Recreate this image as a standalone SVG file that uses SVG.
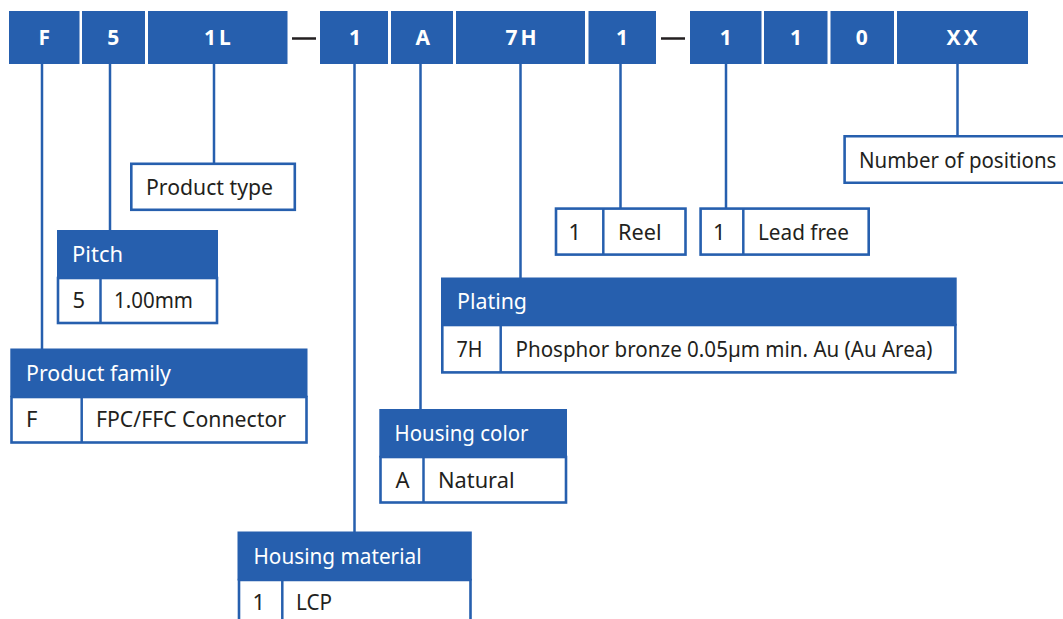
<svg xmlns="http://www.w3.org/2000/svg" width="1063" height="619" viewBox="0 0 1063 619">
<style>
.b{fill:#265fae}
.o{fill:#fff;stroke:#265fae;stroke-width:2.6}
.c{stroke:#265fae;stroke-width:2.5;fill:none}
.t{font-family:"Noto Sans","Liberation Sans",sans-serif;font-size:22px;fill:#231f20}
.h{font-family:"Noto Sans","Liberation Sans",sans-serif;font-size:22px;fill:#fff}
.k{font-family:"Noto Sans","Liberation Sans",sans-serif;font-size:21px;font-weight:700;fill:#fff;text-anchor:middle}
.s{letter-spacing:3px}
</style>
<rect width="1063" height="619" fill="#fff"/>
<g id="connectors">
<path class="c" d="M42 64V349M110 64V230M214 64V163M354.500 64V532M420.500 64V409M520.500 64V278M620.500 64V208M726 64V208M957.500 64V136"/>
<path d="M292 38.500H316M661 38.500H685" stroke="#231f20" stroke-width="2.6" fill="none"/>
</g>
<g id="code">
<rect class="b" x="9" y="11" width="70.500" height="53"/><text class="k" x="44.300" y="44.500">F</text>
<rect class="b" x="82" y="11" width="63" height="53"/><text class="k" x="113.300" y="44.500">5</text>
<rect class="b" x="148" y="11" width="139.500" height="53"/><text class="k s" x="219" y="44.500">1L</text>
<rect class="b" x="320" y="11" width="68" height="53"/><text class="k" x="355" y="44.500">1</text>
<rect class="b" x="391" y="11" width="62" height="53"/><text class="k" x="422.700" y="44.500">A</text>
<rect class="b" x="456" y="11" width="129" height="53"/><text class="k s" x="522.500" y="44.500">7H</text>
<rect class="b" x="588.500" y="11" width="67.500" height="53"/><text class="k" x="622" y="44.500">1</text>
<rect class="b" x="690" y="11" width="71.500" height="53"/><text class="k" x="725.700" y="44.500">1</text>
<rect class="b" x="764" y="11" width="63.500" height="53"/><text class="k" x="796" y="44.500">1</text>
<rect class="b" x="830.500" y="11" width="63.500" height="53"/><text class="k" x="861.700" y="44.500">0</text>
<rect class="b" x="897" y="11" width="131" height="53"/><text class="k s" x="963.500" y="44.500">XX</text>
</g>
<g id="product-type"><rect class="o" x="131.300" y="163.800" width="163.500" height="46"/><text class="t" x="146" y="195" textLength="127" lengthAdjust="spacingAndGlyphs">Product type</text></g>
<g id="number-of-positions"><path class="o" d="M1063 136.300H844.600V182.800H1063"/><text class="t" transform="translate(859 168) scale(.93 1)">Number of positions</text></g>
<g id="pitch"><rect class="o" x="58" y="278" width="159" height="45"/><path class="c" d="M100.500 278V323"/><rect class="b" x="57" y="230" width="161" height="48"/><text class="h" x="72" y="262" textLength="51" lengthAdjust="spacingAndGlyphs">Pitch</text><text class="t" x="72.500" y="308">5</text><text class="t" x="114" y="308" textLength="79" lengthAdjust="spacingAndGlyphs">1.00mm</text></g>
<g id="product-family"><rect class="o" x="11.500" y="397" width="295" height="45.500"/><path class="c" d="M81.700 397V442"/><rect class="b" x="10.300" y="348.500" width="297.200" height="48.500"/><text class="h" x="26" y="381" textLength="145" lengthAdjust="spacingAndGlyphs">Product family</text><text class="t" x="26" y="427">F</text><text class="t" x="96" y="427" textLength="190" lengthAdjust="spacingAndGlyphs">FPC/FFC Connector</text></g>
<g id="housing-color"><rect class="o" x="380.500" y="457" width="185.500" height="45.500"/><path class="c" d="M423.500 457V503"/><rect class="b" x="379.300" y="409" width="187.700" height="48.500"/><text class="h" x="394.500" y="441" textLength="134" lengthAdjust="spacingAndGlyphs">Housing color</text><text class="t" x="395.500" y="488">A</text><text class="t" x="438" y="488" textLength="76.500" lengthAdjust="spacingAndGlyphs">Natural</text></g>
<g id="housing-material"><path class="o" d="M239 619V580H470.500V619"/><path class="c" d="M282.300 580V619"/><rect class="b" x="237.500" y="531.500" width="234.300" height="49"/><text class="h" x="253.500" y="564" textLength="168" lengthAdjust="spacingAndGlyphs">Housing material</text><text class="t" x="252.500" y="610">1</text><text class="t" x="296" y="610" textLength="36" lengthAdjust="spacingAndGlyphs">LCP</text></g>
<g id="packaging"><rect class="o" x="556" y="208.600" width="129.500" height="46"/><path class="c" d="M603.300 209V255"/><text class="t" x="568.500" y="240">1</text><text class="t" x="618" y="240" textLength="43.500" lengthAdjust="spacingAndGlyphs">Reel</text></g>
<g id="lead-free"><rect class="o" x="700.600" y="208.600" width="168.100" height="46"/><path class="c" d="M743.300 209V255"/><text class="t" x="713" y="240">1</text><text class="t" x="758" y="240" textLength="91" lengthAdjust="spacingAndGlyphs">Lead free</text></g>
<g id="plating"><rect class="o" x="442.300" y="325" width="513.100" height="47.400"/><path class="c" d="M500.700 325V372"/><rect class="b" x="441" y="277.500" width="515.700" height="48.200"/><text class="h" x="457" y="309" textLength="70" lengthAdjust="spacingAndGlyphs">Plating</text><text class="t" x="456.500" y="356.500" textLength="26" lengthAdjust="spacingAndGlyphs">7H</text><text class="t" x="515.500" y="357" textLength="417" lengthAdjust="spacingAndGlyphs">Phosphor bronze 0.05µm min. Au (Au Area)</text></g>
</svg>
